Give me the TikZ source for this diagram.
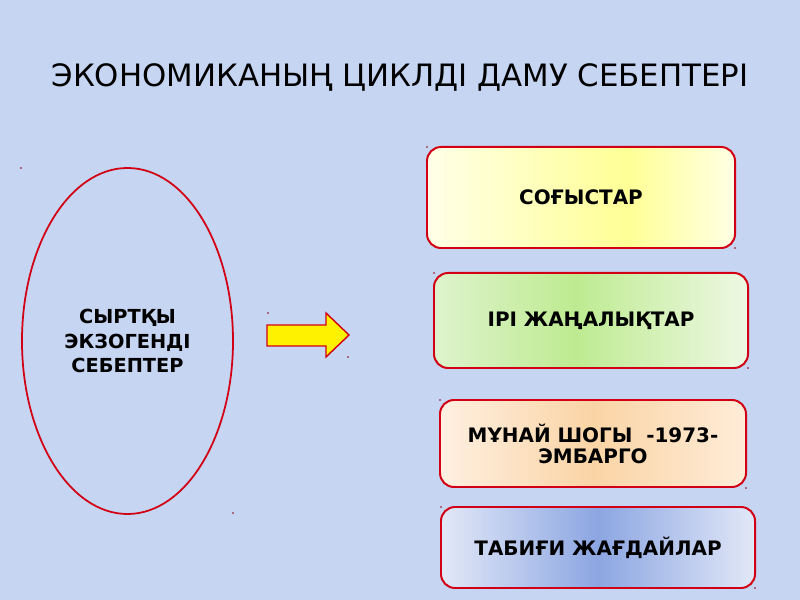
\documentclass[tikz,border=0pt]{standalone}
\usepackage{fontspec}
\setmainfont{DejaVu Sans}
\usetikzlibrary{shapes.geometric,calc}
\definecolor{bg}{RGB}{198,213,242}
\definecolor{bred}{RGB}{210,0,20}
\definecolor{ayl}{RGB}{255,255,232}
\definecolor{aym}{RGB}{255,255,150}
\definecolor{ayr}{RGB}{255,255,228}
\definecolor{agl}{RGB}{222,243,205}
\definecolor{agm}{RGB}{190,235,145}
\definecolor{agr}{RGB}{238,248,228}
\definecolor{aol}{RGB}{255,240,225}
\definecolor{aom}{RGB}{250,212,165}
\definecolor{aor}{RGB}{255,236,216}
\definecolor{abl}{RGB}{226,232,247}
\definecolor{abm}{RGB}{140,166,226}
\definecolor{abr}{RGB}{226,232,247}
\tikzset{
  twoshade/.style n args={4}{path picture={
    \coordinate (ppsw) at (path picture bounding box.south west);
    \coordinate (ppne) at (path picture bounding box.north east);
    \coordinate (ppm) at ($(ppsw)!#4!(ppsw-|ppne)$);
    \shade[sharp corners,left color=#1,right color=#2] (ppsw) rectangle (ppm|-ppne);
    \shade[sharp corners,left color=#2,right color=#3] (ppm) rectangle (ppne);
  }},
  causebox/.style={draw=bred, line width=1.7pt, rounded corners=12pt, align=center,
    font=\fontsize{17}{18}\selectfont\bfseries, inner sep=0pt},
  dot/.style={fill=bred!70!black, circle, inner sep=0pt, minimum size=1.5pt}
}
\begin{document}
\begin{tikzpicture}[x=0.03cm,y=-0.03cm]
\fill[bg] (0,0) rectangle (800,600);
\useasboundingbox (0,0) rectangle (800,600);
\node (title) at (400,77) {\fontsize{26.3}{30}\selectfont ЭКОНОМИКАНЫҢ ЦИКЛДІ ДАМУ СЕБЕПТЕРІ};
\node (ell) [ellipse, draw=bred, line width=1.5pt, minimum width=6.33cm, minimum height=10.38cm,
  align=center, inner sep=0pt, font=\fontsize{16.5}{21}\selectfont\bfseries] at (127.5,341)
  {СЫРТҚЫ\\ЭКЗОГЕНДІ\\СЕБЕПТЕР};
\filldraw[draw=bred, fill=yellow, line width=1.2pt]
  (267,325) -- (326,325) -- (326,313) -- (349,335) -- (326,357) -- (326,346) -- (267,346) -- cycle;
\node (b1) [causebox, minimum width=9.24cm, minimum height=3.03cm, twoshade={ayl}{aym}{ayr}{0.65}] at (581,197.5) {СОҒЫСТАР};
\node (b2) [causebox, minimum width=9.42cm, minimum height=2.85cm, twoshade={agl}{agm}{agr}{0.45}] at (591,320.5) {ІРІ ЖАҢАЛЫҚТАР};
\node (b3) [causebox, minimum width=9.18cm, minimum height=2.61cm, twoshade={aol}{aom}{aor}{0.5}] at (593,443.5) {МҰНАЙ ШОГЫ\ \ -1973-\\ЭМБАРГО};
\node (b4) [causebox, minimum width=9.42cm, minimum height=2.43cm, twoshade={abl}{abm}{abr}{0.5}] at (598,547.5) {ТАБИҒИ ЖАҒДАЙЛАР};
\foreach \p in {(21,168),(268,313),(348,357),(233,513),(427,147),(735,248),(434,273),(748,368),(440,400),(746,488),(441,507),(755,588)}
  \node[dot] at \p {};
\end{tikzpicture}
\end{document}
